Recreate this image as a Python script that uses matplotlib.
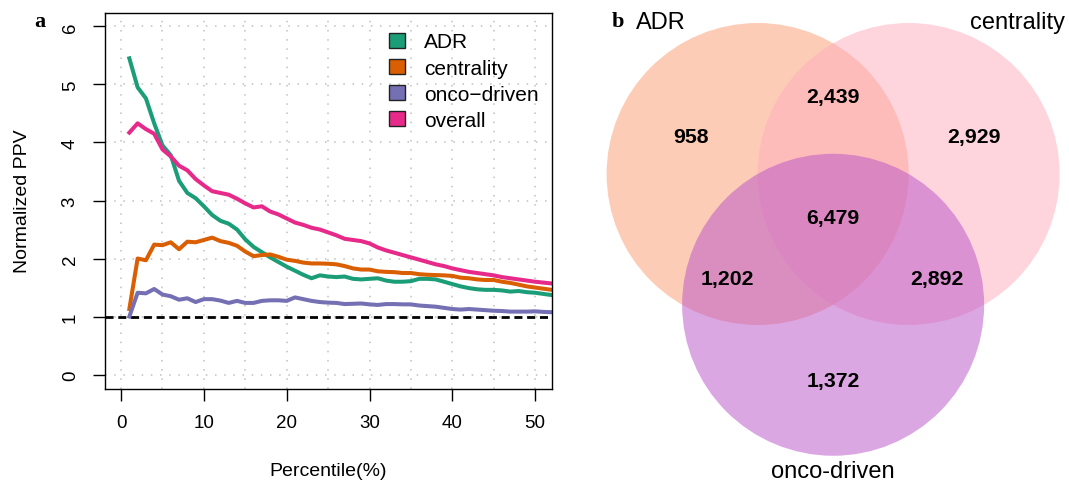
import numpy as np
import matplotlib.pyplot as plt
import matplotlib as mpl
from matplotlib.patches import Circle, Patch

# ── Data ─────────────────────────────────────────────────────────
percentile = list(range(1, 54))

adr = [5.45, 4.95, 4.76, 4.33, 3.95, 3.78, 3.34, 3.13, 3.04, 2.90,
       2.75, 2.65, 2.60, 2.50, 2.33, 2.20, 2.11, 2.02, 1.94, 1.86,
       1.79, 1.72, 1.66, 1.71, 1.69, 1.68, 1.69, 1.65, 1.64, 1.65,
       1.66, 1.62, 1.60, 1.60, 1.61, 1.65, 1.65, 1.64, 1.60, 1.56,
       1.52, 1.49, 1.47, 1.46, 1.46, 1.45, 1.43, 1.44, 1.42, 1.41,
       1.39, 1.37, 1.36]
centrality = [1.13, 2.00, 1.97, 2.24, 2.23, 2.28, 2.16, 2.29, 2.28, 2.32,
              2.36, 2.30, 2.27, 2.22, 2.12, 2.04, 2.06, 2.07, 2.03, 1.98,
              1.96, 1.93, 1.915, 1.915, 1.91, 1.90, 1.87, 1.83, 1.81, 1.81,
              1.78, 1.77, 1.765, 1.75, 1.75, 1.73, 1.72, 1.715, 1.71, 1.70,
              1.67, 1.66, 1.64, 1.63, 1.63, 1.60, 1.58, 1.55, 1.52, 1.50,
              1.48, 1.46, 1.44]
onco = [1.00, 1.41, 1.40, 1.475, 1.38, 1.35, 1.29, 1.315, 1.25, 1.30,
        1.30, 1.275, 1.235, 1.27, 1.235, 1.235, 1.27, 1.28, 1.28, 1.27,
        1.33, 1.30, 1.27, 1.25, 1.24, 1.235, 1.215, 1.22, 1.225, 1.21,
        1.20, 1.215, 1.215, 1.21, 1.21, 1.19, 1.18, 1.17, 1.15, 1.13,
        1.12, 1.13, 1.12, 1.11, 1.10, 1.095, 1.085, 1.085, 1.085, 1.09,
        1.08, 1.075, 1.07]
overall = [4.17, 4.33, 4.23, 4.15, 3.88, 3.76, 3.60, 3.52, 3.37, 3.26,
           3.16, 3.13, 3.10, 3.03, 2.95, 2.88, 2.90, 2.81, 2.76, 2.69,
           2.62, 2.58, 2.53, 2.50, 2.45, 2.40, 2.34, 2.32, 2.30, 2.26,
           2.19, 2.14, 2.10, 2.06, 2.02, 1.98, 1.94, 1.90, 1.87, 1.83,
           1.80, 1.77, 1.75, 1.73, 1.71, 1.68, 1.66, 1.64, 1.62, 1.60,
           1.585, 1.57, 1.55]

series_names = ['ADR', 'centrality', 'onco\u2212driven', 'overall']
series_vals = [adr, centrality, onco, overall]
series_cols = ['#1B9E77', '#D95F02', '#7570B3', '#E7298A']

# Venn region counts
venn_sets = ['ADR', 'centrality', 'onco-driven']
venn_counts = {'100': 958, '010': 2929, '001': 1372,
               '110': 2439, '101': 1202, '011': 2892, '111': 6479}
venn_cols = ['#FB9B71', '#FFADBD', '#B951C9']

# ── Styling ──────────────────────────────────────────────────────
mpl.rcParams.update({
    'font.family': 'Liberation Sans',
    'axes.linewidth': 1.0,
    'xtick.major.width': 1.0,
    'ytick.major.width': 1.0,
})

W, H = 1069, 485
fig = plt.figure(figsize=(W / 100, H / 100), dpi=100)

# ── Panel a: line chart ──────────────────────────────────────────
ax = fig.add_axes([104.5 / W, 1 - 389.5 / H, 447.2 / W, 376 / H])
ax.set_xlim(-2, 52)
ax.set_ylim(-0.24, 6.24)

for v in range(0, 55, 5):
    ax.axvline(v, color='#c0c0c0', lw=1.1, ls=(0, (1, 5)), zorder=0)
for h in range(0, 7):
    ax.axhline(h, color='#c0c0c0', lw=1.1, ls=(0, (1, 5)), zorder=0)

ax.axhline(1, color='black', lw=2.0, ls=(0, (2.9, 1.7)), zorder=1)

for name, vals, col in zip(series_names, series_vals, series_cols):
    ax.plot(percentile, vals, color=col, lw=2.9, solid_joinstyle='round', zorder=2)

ax.set_xticks(range(0, 60, 10))
ax.set_yticks(range(0, 7))
ax.tick_params(axis='both', direction='out', length=8.5, labelsize=13.5, pad=10)
plt.setp(ax.get_yticklabels(), rotation=90, va='center')

ax.set_xlabel('Percentile(%)', fontsize=14)
ax.set_ylabel('Normalized PPV', fontsize=14)
ax.xaxis.set_label_coords(0.5, -0.195)
ax.yaxis.set_label_coords(-0.165, 0.5)

handles = [Patch(facecolor=c, edgecolor='#222222', lw=1.0) for c in series_cols]
ax.legend(handles, series_names, loc='upper left', bbox_to_anchor=(0.636, 0.947),
          frameon=False, fontsize=15, borderpad=0, borderaxespad=0,
          handlelength=0.75, handleheight=0.75, handletextpad=0.95,
          labelspacing=0.34)

fig.text(40 / W, 1 - 22 / H, 'a', fontsize=16, fontweight='bold',
         family='Liberation Serif', ha='center', va='center')

# ── Panel b: Venn diagram ────────────────────────────────────────
vx = fig.add_axes([590 / W, 0, 479 / W, 1])
vx.set_xlim(-1.61, 1.562)
vx.set_ylim(-2.053, 1.159)
vx.axis('off')

centers = [(-0.5, 0.0), (0.5, 0.0), (0.0, -0.866)]
for (cx, cy), col in zip(centers, venn_cols):
    vx.add_patch(Circle((cx, cy), 1.0, facecolor=col, edgecolor='none', alpha=0.5))

label_pos = {'100': (-0.94, 0.25), '010': (0.93, 0.25), '001': (0.0, -1.37),
             '110': (0.0, 0.51), '101': (-0.70, -0.69), '011': (0.69, -0.69),
             '111': (0.0, -0.285)}
for key, n in venn_counts.items():
    x, y = label_pos[key]
    vx.text(x, y, f'{n:,}', fontsize=15.3, fontweight='bold',
            ha='center', va='center')

vx.text(-1.14, 1.007, venn_sets[0], fontsize=17, ha='center', va='center')
vx.text(1.224, 1.007, venn_sets[1], fontsize=17, ha='center', va='center')
vx.text(0.0, -1.97, venn_sets[2], fontsize=17, ha='center', va='center')
fig.text(618 / W, 1 - 22 / H, 'b', fontsize=16, fontweight='bold',
         family='Liberation Serif', ha='center', va='center')

fig.savefig('out.png', dpi=100, facecolor='white')
